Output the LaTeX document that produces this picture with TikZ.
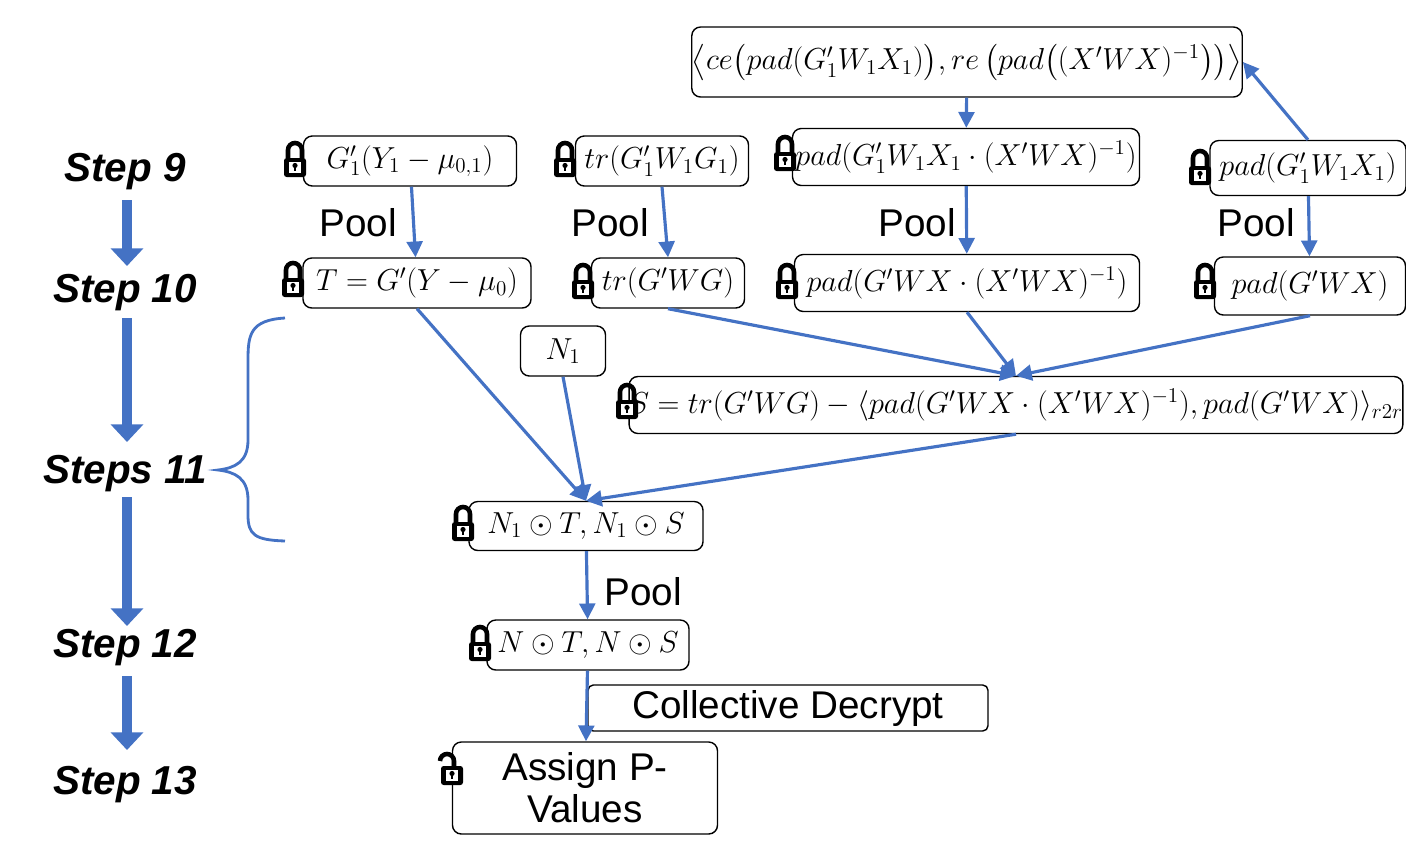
\documentclass[tikz,border=0pt]{standalone}
\usepackage{fontspec}
\setmainfont{Liberation Sans}
\usepackage{amsmath}
\usetikzlibrary{arrows.meta}
\definecolor{bl}{HTML}{4472C4}
\begin{document}
\begin{tikzpicture}[x=0.02cm,y=-0.02cm,
 box/.style={draw,thick,rounded corners=5pt,inner sep=0pt,font=\fontsize{16.5}{18}\selectfont},
 ar/.style={bl,line width=1.8pt,-{Triangle[length=9pt,width=9pt]}},
 big/.style={bl,line width=6pt,-{Triangle[length=10pt,width=18pt]}},
 steplbl/.style={font=\fontsize{23}{26}\selectfont\bfseries\itshape},
 pool/.style={font=\fontsize{22}{24}\selectfont},
 lock/.pic={\draw[line width=2.6pt] (-7,0) -- (-7,-8) arc(180:360:7) -- (7,0);
   \fill[rounded corners=1.5pt] (-11,0) rectangle (11,19);
   \fill[white] (-6,4) rectangle (6,15);
   \fill (0,7.5) circle(2.6); \fill (-1.3,8) rectangle (1.3,13);},
 unlock/.pic={\draw[line width=2.6pt] (-12,-5) arc(180:360:7) -- (2,0);
   \fill[rounded corners=1.5pt] (-11,0) rectangle (11,19);
   \fill[white] (-6,4) rectangle (6,15);
   \fill (0,7.5) circle(2.6); \fill (-1.3,8) rectangle (1.3,13);}]
\useasboundingbox (0,0) rectangle (1406,849);
% steps
\node[steplbl] (s9) at (125,172) {Step 9};
\node[steplbl] (s10) at (125,293) {Step 10};
\node[steplbl] (s11) at (125,474) {Steps 11};
\node[steplbl] (s12) at (125,648) {Step 12};
\node[steplbl] (s13) at (125,785) {Step 13};
\draw[big] (127,200) -- (127,266);
\draw[big] (127,318) -- (127,442);
\draw[big] (127,497) -- (127,626);
\draw[big] (127,676) -- (127,750);
\draw[bl,line width=1.6pt] (285,318) .. controls (250,320) and (248,335) .. (248,360) -- (248,440) .. controls (248,462) and (235,468) .. (218,470) .. controls (235,472) and (248,478) .. (248,500) -- (248,515) .. controls (248,535) and (255,540) .. (285,541);
% boxes
\node[box,minimum width=545*0.02cm,minimum height=70*0.02cm] (top) at (967,62) {$\left\langle ce\bigl(pad(G_1'W_1X_1)\bigr),re\left(pad\bigl((X'WX)^{-1}\bigr)\right)\right\rangle$};
\node[box,minimum width=213*0.02cm,minimum height=50*0.02cm] (a9) at (410,161) {$G_1'(Y_1-\mu_{0,1})$};
\node[box,minimum width=173*0.02cm,minimum height=50*0.02cm] (b9) at (662,161) {$tr(G_1'W_1G_1)$};
\node[box,minimum width=347*0.02cm,minimum height=57*0.02cm] (c9) at (966,157) {$pad(G_1'W_1X_1\cdot(X'WX)^{-1})$};
\node[box,minimum width=196*0.02cm,minimum height=55*0.02cm] (d9) at (1308,168) {$pad(G_1'W_1X_1)$};
\node[box,minimum width=228*0.02cm,minimum height=50*0.02cm] (a10) at (417,283) {$T=G'(Y-\mu_0)$};
\node[box,minimum width=153*0.02cm,minimum height=50*0.02cm] (b10) at (668,283) {$tr(G'WG)$};
\node[box,minimum width=345*0.02cm,minimum height=57*0.02cm] (c10) at (967,283) {$pad(G'WX\cdot(X'WX)^{-1})$};
\node[box,minimum width=191*0.02cm,minimum height=58*0.02cm] (d10) at (1310,286) {$pad(G'WX)$};
\node[box,minimum width=85*0.02cm,minimum height=50*0.02cm] (n1) at (563,351) {$N_1$};
\node[box,minimum width=767*0.02cm,minimum height=57*0.02cm] (S) at (1016,405) {$S=tr(G'WG)-\langle pad(G'WX\cdot(X'WX)^{-1}),pad(G'WX)\rangle_{r2r}$};
\node[box,minimum width=234*0.02cm,minimum height=49*0.02cm] (nt) at (586,526) {$N_1\odot T,N_1\odot S$};
\node[box,minimum width=202*0.02cm,minimum height=50*0.02cm] (nn) at (588,645) {$N\odot T,N\odot S$};
\node[box,pool,minimum width=400*0.02cm,minimum height=46*0.02cm,rounded corners=3pt] (cd) at (788,708) {Collective Decrypt};
\node[box,pool,minimum width=265*0.02cm,minimum height=92*0.02cm,align=center] (ap) at (585,788) {Assign P-\\Values};
% locks
\foreach \x/\y in {295/158,565/158,785/152,1200/166,293/278,583/280,787/280,1205/280,627/400,463/522,480/642} \pic at (\x,\y) {lock};
\pic at (452,766) {unlock};
% pool labels
\node[pool] (p1) at (358,223) {Pool};
\node[pool] (p2) at (610,223) {Pool};
\node[pool] (p3) at (917,223) {Pool};
\node[pool] (p4) at (1256,223) {Pool};
\node[pool] (p5) at (643,592) {Pool};
% arrows
\draw[ar] (a9) -- (a10);
\draw[ar] (b9.south) -- (b10.north);
\draw[ar] (c9) -- (c10);
\draw[ar] (d9) -- (d10);
\draw[ar] (d9.north) -- (top.east);
\draw[ar] (top) -- (c9);
\draw[ar] (a10.south) -- (nt.north);
\draw[ar] (n1.south) -- (nt.north);
\draw[ar] (S.south) -- (nt.north);
\draw[ar] (b10.south) -- (S.north);
\draw[ar] (c10.south) -- (S.north);
\draw[ar] (d10.south) -- (S.north);
\draw[ar] (nt) -- (nn);
\draw[ar] (nn) -- (ap);
\end{tikzpicture}
\end{document}
